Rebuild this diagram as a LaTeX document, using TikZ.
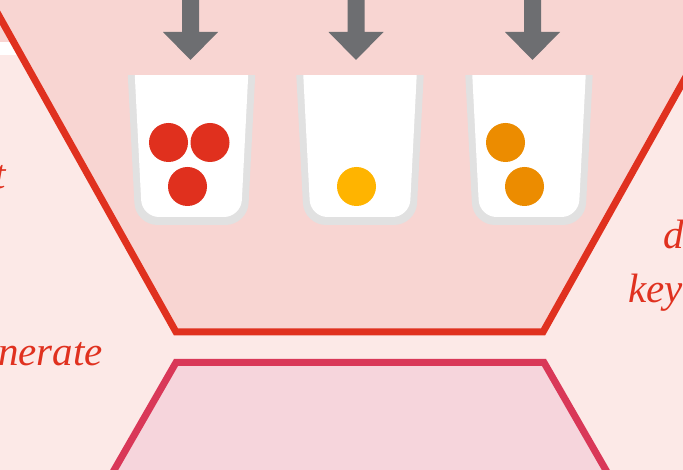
\documentclass[tikz,border=0pt]{standalone}
\usepackage{fontspec}
\setmainfont{Liberation Serif}
\definecolor{bgpink}{HTML}{FCE9E7}
\definecolor{hexpink}{HTML}{F8D5D2}
\definecolor{hexred}{HTML}{E0311F}
\definecolor{trappink}{HTML}{F6D5DC}
\definecolor{trapred}{HTML}{D93858}
\definecolor{arrowgray}{HTML}{6D6E71}
\definecolor{cupgray}{HTML}{E1E1E1}
\definecolor{ballred}{HTML}{E0301E}
\definecolor{ballyellow}{HTML}{FFB400}
\definecolor{ballorange}{HTML}{EC8C00}
\begin{document}
\begin{tikzpicture}[x=1pt,y=-1pt,
  hexline/.style={draw=hexred,line width=7pt,fill=hexpink,line join=miter},
  trapline/.style={draw=trapred,line width=7pt,fill=trappink,line join=miter},
  label/.style={text=hexred,font=\itshape\fontsize{41}{49}\selectfont,inner sep=0pt},
  downarrow/.pic={\fill[arrowgray] (-8.5,-5) -- (8.5,-5) -- (8.5,32) -- (27.5,32) -- (0,60) -- (-27.5,32) -- (-8.5,32) -- cycle;},
  cup/.pic={
    \begin{scope}
      \clip (-70,76) rectangle (70,230);
      \fill[cupgray,rounded corners=22] (-66,30) -- (-56,225) -- (56,225) -- (66,30) -- cycle;
      \fill[white,rounded corners=17] (-59,30) -- (-49.5,217) -- (49.5,217) -- (59,30) -- cycle;
    \end{scope}}
]
\useasboundingbox (0,0) rectangle (683,470);
\clip (0,0) rectangle (683,470);
\fill[bgpink] (0,0) rectangle (683,470);
\fill[hexpink] (0,0) rectangle (30,42);
\fill[white] (0,42) rectangle (30,55);
% top hexagon (funnel)
\path[hexline] (-26.7,-30) -- (176,332) -- (543,332) -- (745.7,-30) -- cycle;
% bottom trapezoid
\path[trapline] (176,362.5) -- (544,362.5) -- (630,512) -- (90,512) -- cycle;
% arrows
\pic at (190.5,0) {downarrow};
\pic at (356,0) {downarrow};
\pic at (532.5,0) {downarrow};
% cups
\pic at (191.5,0) {cup};
\pic at (360,0) {cup};
\pic at (529,0) {cup};
% balls
\fill[ballred] (168.5,142.5) circle (19.5);
\fill[ballred] (210,142.5) circle (19.5);
\fill[ballred] (187.5,186.5) circle (19.5);
\fill[ballyellow] (356.5,186.5) circle (19.5);
\fill[ballorange] (505.5,142.5) circle (19.5);
\fill[ballorange] (524.5,186.5) circle (19.5);
% texts
\node[label,anchor=base east] (tl1) at (6,189) {t};
\node[label,anchor=base east] (tl2) at (103,366) {nerate};
\node[label,anchor=base west] (tr1) at (663,249) {d};
\node[label,anchor=base west] (tr2) at (628,303) {key};
\end{tikzpicture}
\end{document}
